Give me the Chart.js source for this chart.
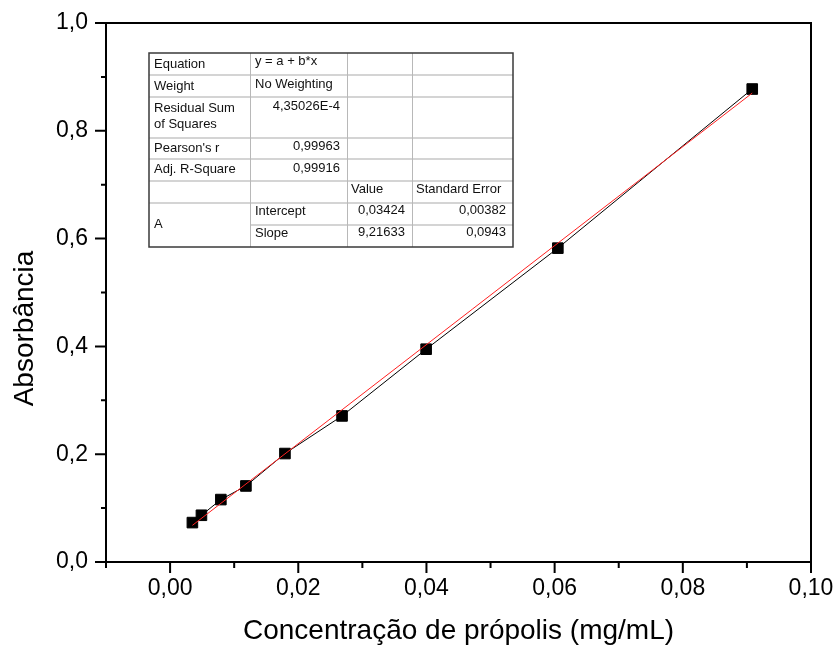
<!DOCTYPE html>
<html><head><meta charset="utf-8">
<script src="https://cdn.jsdelivr.net/npm/chart.js@4.4.1/dist/chart.umd.min.js"></script>
<style>html,body{margin:0;padding:0;background:#fff;} canvas{display:block;}</style>
</head><body>
<canvas id="c" width="834" height="646"></canvas>
<script>
// ---- data ----
const concentration = [0.00348, 0.00489, 0.00792, 0.01183, 0.01792, 0.02683, 0.03995, 0.0605, 0.09083];
const absorbance    = [0.0731, 0.0867, 0.1158, 0.1411, 0.2012, 0.2710, 0.3948, 0.5823, 0.8775];
const fitX = [0.00348, 0.09083];
const fitY = [0.068, 0.870];
const xTickValues = [0, 0.02, 0.04, 0.06, 0.08, 0.10];
const xTickLabels = ['0,00', '0,02', '0,04', '0,06', '0,08', '0,10'];
const xMinorValues = [-0.01, 0.01, 0.03, 0.05, 0.07, 0.09];
const yTickValues = [0, 0.2, 0.4, 0.6, 0.8, 1.0];
const yTickLabels = ['0,0', '0,2', '0,4', '0,6', '0,8', '1,0'];
const yMinorValues = [0.1, 0.3, 0.5, 0.7, 0.9];
const xTitle = 'Concentração de própolis (mg/mL)';
const yTitle = 'Absorbância';
const tableLabels = ['Equation', 'Weight', 'Residual Sum', 'of Squares', "Pearson's r", 'Adj. R-Square', 'A'];
const tableValues = ['y = a + b*x', 'No Weighting', '4,35026E-4', '0,99963', '0,99916'];
const tableParamHeader = ['Value', 'Standard Error'];
const tableParams = [['Intercept', '0,03424', '0,00382'], ['Slope', '9,21633', '0,0943']];

const FONT = '"Liberation Sans", Arial, Helvetica, sans-serif';
Chart.defaults.font.family = FONT;
Chart.defaults.color = '#000';

const decor = {
  id: 'decor',
  afterDatasetsDraw(chart) {
    const ctx = chart.ctx;
    // ---- fit table ----
    const L = 149, R = 513, T = 53, B = 247;
    const cols = [250, 347, 412];
    const rows = [75, 97, 138, 159, 181, 203, 225];
    ctx.save();
    ctx.fillStyle = '#fff';
    ctx.fillRect(L, T, R - L, B - T);
    ctx.strokeStyle = '#d4d4d4';
    ctx.lineWidth = 2;
    rows.forEach((y, i) => {
      ctx.beginPath();
      const x0 = (i === rows.length - 1) ? cols[0] : L;
      ctx.moveTo(x0, y); ctx.lineTo(R, y); ctx.stroke();
    });
    ctx.strokeStyle = '#b8b8b8';
    ctx.lineWidth = 1;
    cols.forEach(x => {
      ctx.beginPath(); ctx.moveTo(x + 0.5, T); ctx.lineTo(x + 0.5, B); ctx.stroke();
    });
    ctx.strokeStyle = '#3a3a3a';
    ctx.lineWidth = 1.5;
    ctx.strokeRect(L, T, R - L, B - T);
    ctx.fillStyle = '#111';
    ctx.font = '13px ' + FONT;
    ctx.textBaseline = 'alphabetic';
    const put = (t, x, y, a) => { ctx.textAlign = a; ctx.fillText(t, x, y); };
    put(tableLabels[0], 154, 68, 'left');
    put(tableLabels[1], 154, 90, 'left');
    put(tableLabels[2], 154, 112, 'left');
    put(tableLabels[3], 154, 128, 'left');
    put(tableLabels[4], 154, 152, 'left');
    put(tableLabels[5], 154, 173, 'left');
    put(tableLabels[6], 154, 228, 'left');
    put(tableValues[0], 255, 65, 'left');
    put(tableValues[1], 255, 88, 'left');
    put(tableValues[2], 340, 110, 'right');
    put(tableValues[3], 340, 150, 'right');
    put(tableValues[4], 340, 172, 'right');
    put(tableParamHeader[0], 351, 193, 'left');
    put(tableParamHeader[1], 416, 193, 'left');
    put(tableParams[0][0], 255, 215, 'left');
    put(tableParams[0][1], 405, 214, 'right');
    put(tableParams[0][2], 506, 214, 'right');
    put(tableParams[1][0], 255, 237, 'left');
    put(tableParams[1][1], 405, 236, 'right');
    put(tableParams[1][2], 506, 236, 'right');
    ctx.restore();
  },
  afterDraw(chart) {
    const ctx = chart.ctx;
    const {left, right, top, bottom} = chart.chartArea;
    const xs = chart.scales.x, ys = chart.scales.y;
    ctx.save();
    ctx.strokeStyle = '#000';
    ctx.lineWidth = 2;
    ctx.strokeRect(left, top, right - left, bottom - top);
    ctx.beginPath();
    xTickValues.forEach(v => { const p = xs.getPixelForValue(v); ctx.moveTo(p, bottom); ctx.lineTo(p, bottom + 11); });
    xMinorValues.forEach(v => { const p = xs.getPixelForValue(v); ctx.moveTo(p, bottom); ctx.lineTo(p, bottom + 6); });
    yTickValues.forEach(v => { const p = ys.getPixelForValue(v); ctx.moveTo(left, p); ctx.lineTo(left - 11, p); });
    yMinorValues.forEach(v => { const p = ys.getPixelForValue(v); ctx.moveTo(left, p); ctx.lineTo(left - 5, p); });
    ctx.stroke();
    // y axis title
    ctx.translate(33, 328.5);
    ctx.rotate(-Math.PI / 2);
    ctx.fillStyle = '#000';
    ctx.font = '28px ' + FONT;
    ctx.textAlign = 'center';
    ctx.textBaseline = 'alphabetic';
    ctx.fillText(yTitle, 0, 0);
    ctx.restore();
  }
};

new Chart(document.getElementById('c'), {
  type: 'scatter',
  data: {
    datasets: [
      {
        label: 'fit',
        data: fitX.map((x, i) => ({x, y: fitY[i]})),
        showLine: true,
        borderColor: '#ff2020',
        borderWidth: 1,
        pointRadius: 0,
        order: 0
      },
      {
        label: 'Absorbância',
        data: concentration.map((x, i) => ({x, y: absorbance[i]})),
        showLine: true,
        borderColor: '#000',
        borderWidth: 1,
        pointStyle: 'rect',
        pointRadius: 7.5,
        pointBorderWidth: 1,
        pointBackgroundColor: '#000',
        pointBorderColor: '#000',
        order: 1
      }
    ]
  },
  options: {
    responsive: false,
    animation: false,
    devicePixelRatio: 1,
    layout: {padding: {top: 23, right: 23, left: 0, bottom: 0}},
    plugins: {legend: {display: false}, tooltip: {enabled: false}},
    scales: {
      x: {
        type: 'linear', min: -0.01, max: 0.10,
        afterBuildTicks: s => { s.ticks = xTickValues.map(v => ({value: v})); },
        afterFit: s => { s.height = 84; s.paddingLeft = 0; s.paddingRight = 0; },
        ticks: {callback: (v, i) => xTickLabels[i], font: {size: 23, lineHeight: 1.2}, padding: 13, maxRotation: 0, autoSkip: false, color: '#000'},
        grid: {display: false, drawTicks: false},
        border: {display: false},
        title: {display: true, text: xTitle, font: {size: 28, lineHeight: 1}, padding: {top: 0, bottom: 1}, color: '#000'}
      },
      y: {
        type: 'linear', min: 0, max: 1.0,
        afterBuildTicks: s => { s.ticks = yTickValues.map(v => ({value: v})); },
        afterFit: s => { s.width = 106; s.paddingTop = 0; s.paddingBottom = 0; },
        ticks: {callback: (v, i) => yTickLabels[i], font: {size: 23, lineHeight: 1.2}, padding: 18, autoSkip: false, color: '#000'},
        grid: {display: false, drawTicks: false},
        border: {display: false},
        title: {display: false}
      }
    }
  },
  plugins: [decor]
});
</script>
</body></html>
